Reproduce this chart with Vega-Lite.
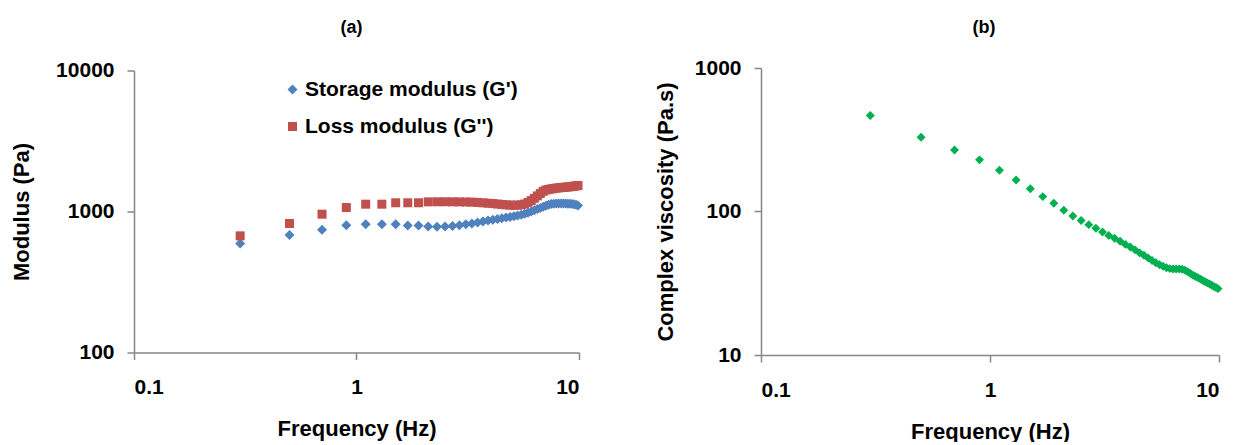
{
  "$schema": "https://vega.github.io/schema/vega-lite/v6.json",
  "autosize": {"type": "pad"},
  "padding": {"left": 10, "top": 18, "right": 0, "bottom": 0},
  "background": "white",
  "bounds": "flush",
  "center": true,
  "spacing": 182,
  "config": {
    "font": "Liberation Sans",
    "view": {"stroke": null},
    "axis": {
      "grid": false,
      "domainColor": "#868686",
      "domainWidth": 1.5,
      "tickColor": "#868686",
      "tickWidth": 1.5,
      "tickSize": 7,
      "labelFont": "Liberation Sans",
      "labelFontWeight": "bold",
      "labelFontSize": 21,
      "labelColor": "#000000",
      "labelPadding": 13,
      "titleFont": "Liberation Sans",
      "titleFontWeight": "bold",
      "titleFontSize": 22,
      "titleColor": "#000000"
    },
    "axisX": {"labelPadding": 17, "titlePadding": 21},
    "title": {"font": "Liberation Sans", "fontSize": 18, "fontWeight": "bold", "color": "#000000"}
  },
  "datasets": {
    "rheo": [
      {"f": 0.3, "storage": 593, "loss": 672, "eta": 467},
      {"f": 0.5, "storage": 680, "loss": 822, "eta": 329},
      {"f": 0.7, "storage": 741, "loss": 957, "eta": 268},
      {"f": 0.9, "storage": 800, "loss": 1067, "eta": 229},
      {"f": 1.1, "storage": 812, "loss": 1127, "eta": 194},
      {"f": 1.3, "storage": 812, "loss": 1127, "eta": 166},
      {"f": 1.5, "storage": 812, "loss": 1153, "eta": 144},
      {"f": 1.7, "storage": 796, "loss": 1153, "eta": 127},
      {"f": 1.9, "storage": 796, "loss": 1153, "eta": 114},
      {"f": 2.1, "storage": 783, "loss": 1171, "eta": 102},
      {"f": 2.3, "storage": 781, "loss": 1172, "eta": 93},
      {"f": 2.5, "storage": 783, "loss": 1172, "eta": 86.5},
      {"f": 2.7, "storage": 788, "loss": 1171, "eta": 81},
      {"f": 2.9, "storage": 800, "loss": 1170, "eta": 76.5},
      {"f": 3.1, "storage": 812, "loss": 1168, "eta": 72},
      {"f": 3.3, "storage": 822, "loss": 1165, "eta": 68},
      {"f": 3.5, "storage": 835, "loss": 1160, "eta": 65},
      {"f": 3.7, "storage": 848, "loss": 1152, "eta": 62},
      {"f": 3.9, "storage": 862, "loss": 1145, "eta": 59},
      {"f": 4.1, "storage": 875, "loss": 1138, "eta": 56.5},
      {"f": 4.3, "storage": 885, "loss": 1130, "eta": 54},
      {"f": 4.5, "storage": 895, "loss": 1122, "eta": 51.5},
      {"f": 4.7, "storage": 905, "loss": 1115, "eta": 49.5},
      {"f": 4.9, "storage": 915, "loss": 1110, "eta": 47.5},
      {"f": 5.1, "storage": 925, "loss": 1108, "eta": 45.5},
      {"f": 5.3, "storage": 935, "loss": 1110, "eta": 44},
      {"f": 5.5, "storage": 948, "loss": 1115, "eta": 42.5},
      {"f": 5.7, "storage": 962, "loss": 1130, "eta": 41.5},
      {"f": 5.9, "storage": 980, "loss": 1160, "eta": 40.5},
      {"f": 6.1, "storage": 1000, "loss": 1195, "eta": 40},
      {"f": 6.3, "storage": 1020, "loss": 1240, "eta": 39.8},
      {"f": 6.5, "storage": 1040, "loss": 1290, "eta": 39.8},
      {"f": 6.7, "storage": 1060, "loss": 1340, "eta": 39.8},
      {"f": 6.9, "storage": 1080, "loss": 1390, "eta": 39.6},
      {"f": 7.1, "storage": 1100, "loss": 1420, "eta": 39},
      {"f": 7.3, "storage": 1115, "loss": 1435, "eta": 38},
      {"f": 7.5, "storage": 1128, "loss": 1445, "eta": 37},
      {"f": 7.7, "storage": 1135, "loss": 1455, "eta": 36},
      {"f": 7.9, "storage": 1140, "loss": 1465, "eta": 35.2},
      {"f": 8.1, "storage": 1140, "loss": 1472, "eta": 34.5},
      {"f": 8.3, "storage": 1140, "loss": 1478, "eta": 33.8},
      {"f": 8.5, "storage": 1140, "loss": 1483, "eta": 33},
      {"f": 8.7, "storage": 1138, "loss": 1488, "eta": 32.4},
      {"f": 8.9, "storage": 1137, "loss": 1493, "eta": 31.8},
      {"f": 9.1, "storage": 1135, "loss": 1498, "eta": 31.2},
      {"f": 9.3, "storage": 1130, "loss": 1505, "eta": 30.6},
      {"f": 9.5, "storage": 1125, "loss": 1512, "eta": 30},
      {"f": 9.7, "storage": 1115, "loss": 1520, "eta": 29.5},
      {"f": 9.9, "storage": 1105, "loss": 1528, "eta": 29}
    ]
  },
  "hconcat": [
    {
      "width": 445,
      "height": 282,
      "title": {"text": "(a)", "anchor": "middle", "offset": 23, "dx": -5},
      "data": {"name": "rheo"},
      "transform": [{"fold": ["storage", "loss"], "as": ["series", "modulus"]}],
      "mark": {"type": "point", "filled": true, "opacity": 1},
      "encoding": {
        "x": {
          "field": "f", "type": "quantitative",
          "scale": {"type": "log", "domain": [0.1, 10], "nice": false},
          "axis": {"values": [0.1, 1, 10], "format": "~g", "title": "Frequency (Hz)"}
        },
        "y": {
          "field": "modulus", "type": "quantitative",
          "scale": {"type": "log", "domain": [100, 10000], "nice": false},
          "axis": {"values": [100, 1000, 10000], "format": "d", "title": "Modulus (Pa)", "titlePadding": 22}
        },
        "color": {
          "field": "series", "type": "nominal",
          "scale": {"domain": ["storage", "loss"], "range": ["#4F81BD", "#C0504D"]},
          "legend": {
            "orient": "none", "legendX": 148, "legendY": 11, "title": null,
            "labelExpr": "datum.label == 'storage' ? \"Storage modulus (G')\" : \"Loss modulus (G'')\"",
            "labelFont": "Liberation Sans", "labelFontWeight": "bold", "labelFontSize": 21, "labelColor": "#000000",
            "labelLimit": 0, "rowPadding": 15, "symbolSize": 81, "labelOffset": 2
          }
        },
        "shape": {
          "field": "series", "type": "nominal",
          "scale": {"domain": ["storage", "loss"], "range": ["diamond", "square"]},
          "legend": null
        },
        "size": {
          "field": "series", "type": "nominal",
          "scale": {"domain": ["storage", "loss"], "range": [100, 81]},
          "legend": null
        }
      }
    },
    {
      "width": 458,
      "height": 287,
      "title": {"text": "(b)", "anchor": "middle", "offset": 20, "dx": -6},
      "data": {"name": "rheo"},
      "mark": {"type": "point", "filled": true, "opacity": 1, "shape": "diamond", "color": "#00B050", "size": 80},
      "encoding": {
        "x": {
          "field": "f", "type": "quantitative",
          "scale": {"type": "log", "domain": [0.1, 10], "nice": false},
          "axis": {"values": [0.1, 1, 10], "format": "~g", "title": "Frequency (Hz)"}
        },
        "y": {
          "field": "eta", "type": "quantitative",
          "scale": {"type": "log", "domain": [10, 1000], "nice": false},
          "axis": {"values": [10, 100, 1000], "format": "d", "title": "Complex viscosity (Pa.s)", "titlePadding": 17}
        }
      }
    }
  ]
}
